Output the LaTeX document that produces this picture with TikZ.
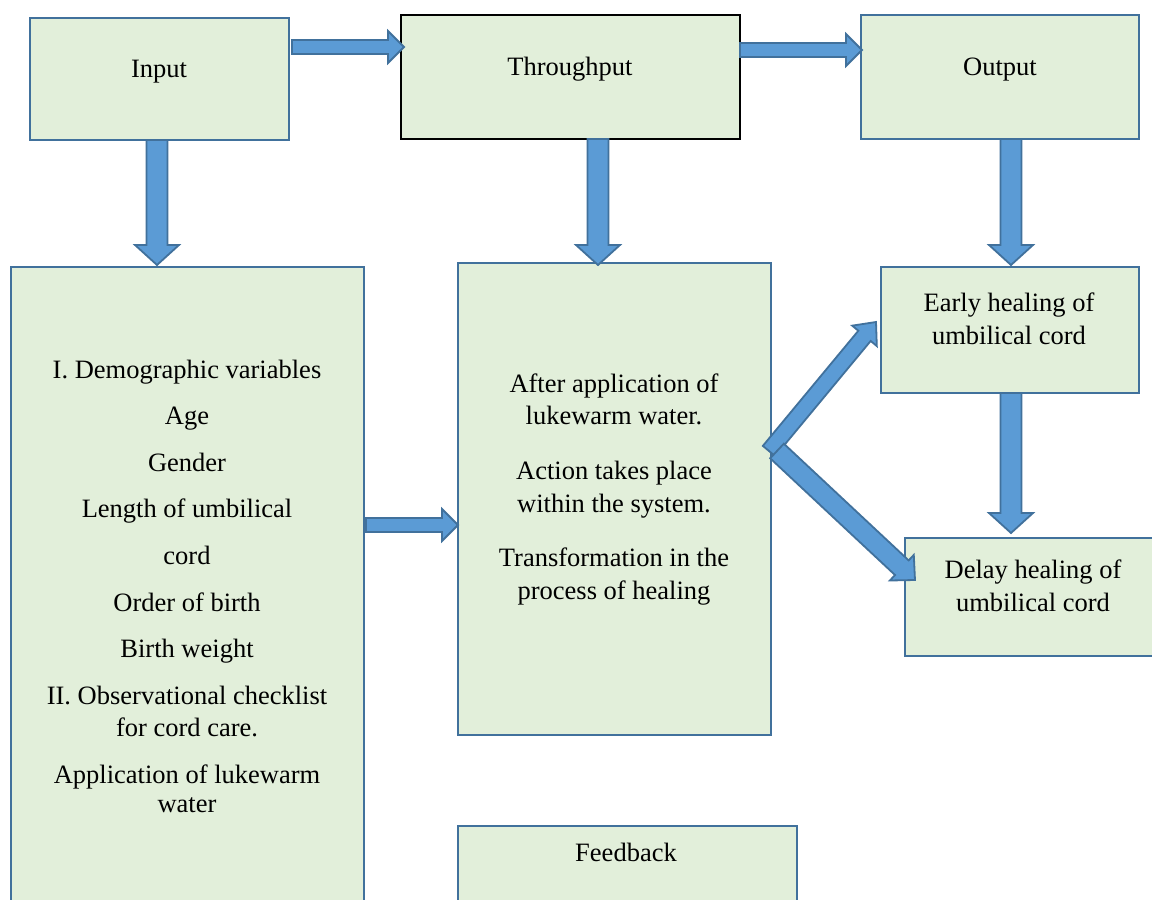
\documentclass[tikz,border=0pt]{standalone}
\usepackage{fontspec}
\setmainfont{Liberation Serif}
\usetikzlibrary{calc}
\definecolor{boxfill}{RGB}{226,239,218}
\definecolor{boxline}{RGB}{65,113,156}
\definecolor{arrfill}{RGB}{91,155,213}
\definecolor{arrline}{RGB}{65,113,156}
\newcommand\blockarrow[5]{%
  \path ($(#2)!#5!(#1)$) coordinate (bC);
  \draw[barrow] ($(#1)!#3!90:(#2)$) -- ($(bC)!#3!-90:(#1)$) -- ($(bC)!#4!-90:(#1)$) -- (#2)
     -- ($(bC)!#4!90:(#1)$) -- ($(bC)!#3!90:(#1)$) -- ($(#1)!#3!-90:(#2)$) -- cycle;}
\begin{document}
\begin{tikzpicture}[x=1pt,y=-1pt,
  box/.style={draw=boxline, line width=2pt, fill=boxfill, anchor=north west, inner sep=0},
  txt/.style={anchor=base, inner sep=0, font=\fontsize{26.5}{33}\selectfont},
  barrow/.style={draw=arrline, fill=arrfill, line width=1.8pt, line join=miter}]
\useasboundingbox (0,0) rectangle (1152,900);
\clip (0,0) rectangle (1152,900);
\fill[white] (0,0) rectangle (1152,900);
% boxes
\node[box, minimum width=259pt, minimum height=122pt] (input) at (29,17) {};
\node[box, draw=black, minimum width=339pt, minimum height=124pt] (through) at (400,14) {};
\node[box, minimum width=278pt, minimum height=124pt] (output) at (860,14) {};
\node[box, minimum width=353pt, minimum height=680pt] (left) at (10,266) {};
\node[box, minimum width=313pt, minimum height=472pt] (mid) at (457,262) {};
\node[box, minimum width=258pt, minimum height=126pt] (early) at (880,266) {};
\node[box, minimum width=270pt, minimum height=118pt] (delay) at (904,537) {};
\node[box, minimum width=339pt, minimum height=120pt] (feed) at (457,825) {};
% texts
\node[txt] (tin) at (159,77) {Input};
\node[txt] (tth) at (570,75) {Throughput};
\node[txt] (tout) at (1000,75) {Output};
\node[txt] (l1) at (187,378) {I. Demographic variables};
\node[txt] (l2) at (187,424) {Age};
\node[txt] (l3) at (187,471) {Gender};
\node[txt] (l4) at (187,517) {Length of umbilical};
\node[txt] (l5) at (187,564) {cord};
\node[txt] (l6) at (187,611) {Order of birth};
\node[txt] (l7) at (187,657) {Birth weight};
\node[txt] (l8) at (187,704) {II. Observational checklist};
\node[txt] (l9) at (187,736) {for cord care.};
\node[txt] (l10) at (187,783) {Application of lukewarm};
\node[txt] (l11) at (187,812) {water};
\node[txt] (m1) at (614,392) {After application of};
\node[txt] (m2) at (614,424) {lukewarm water.};
\node[txt] (m3) at (614,479) {Action takes place};
\node[txt] (m4) at (614,512) {within the system.};
\node[txt] (m5) at (614,566) {Transformation in the};
\node[txt] (m6) at (614,599) {process of healing};
\node[txt] (e1) at (1009,311) {Early healing of};
\node[txt] (e2) at (1009,344) {umbilical cord};
\node[txt] (d1) at (1033,578) {Delay healing of};
\node[txt] (d2) at (1033,611) {umbilical cord};
\node[txt] (fb) at (626,861) {Feedback};
% arrow end points
\coordinate (a1s) at (292,47);  \coordinate (a1e) at (404,47);
\coordinate (a2s) at (740,50);  \coordinate (a2e) at (862,50);
\coordinate (a3s) at (157,140); \coordinate (a3e) at (157,265);
\coordinate (a4s) at (598,139); \coordinate (a4e) at (598,265);
\coordinate (a5s) at (1011,139); \coordinate (a5e) at (1011,265);
\coordinate (a6s) at (1011,393); \coordinate (a6e) at (1011,533);
\coordinate (a7s) at (366,525); \coordinate (a7e) at (458,525);
\coordinate (a8s) at (769,451); \coordinate (a8e) at (876,322);
\coordinate (a9s) at (777,451); \coordinate (a9e) at (915,580);
\blockarrow{a1s}{a1e}{7pt}{16pt}{16pt}
\blockarrow{a2s}{a2e}{7pt}{16pt}{16pt}
\blockarrow{a3s}{a3e}{10.5pt}{22pt}{20pt}
\blockarrow{a4s}{a4e}{10.5pt}{22pt}{20pt}
\blockarrow{a5s}{a5e}{10.5pt}{22pt}{20pt}
\blockarrow{a6s}{a6e}{10.5pt}{22pt}{20pt}
\blockarrow{a7s}{a7e}{7pt}{16pt}{16pt}
\blockarrow{a8s}{a8e}{8pt}{16pt}{18pt}
\blockarrow{a9s}{a9e}{10pt}{17.5pt}{18pt}
\end{tikzpicture}
\end{document}
